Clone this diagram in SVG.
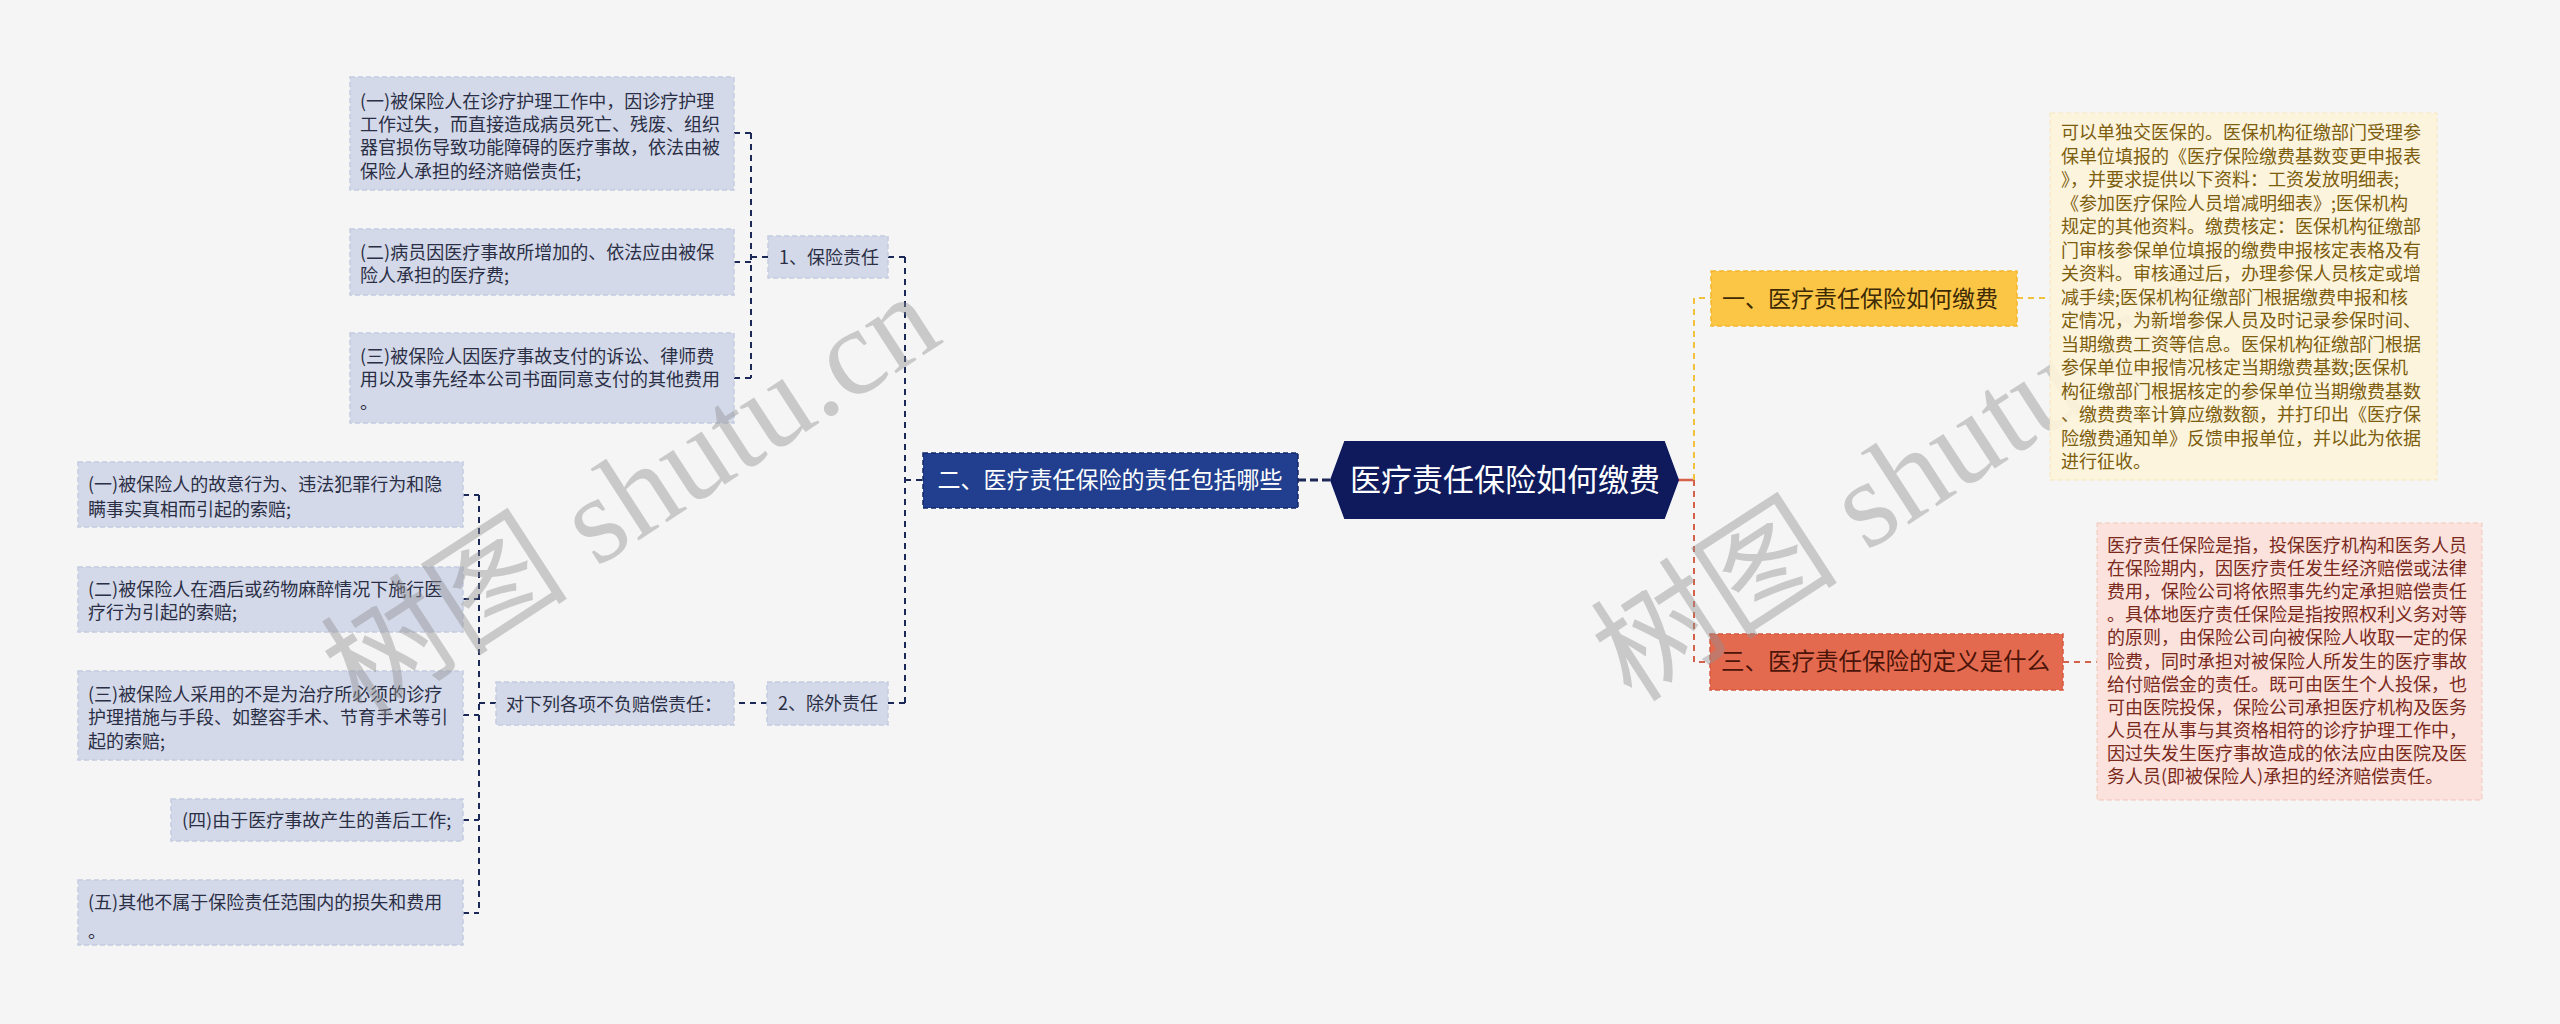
<svg xmlns="http://www.w3.org/2000/svg" width="2560" height="1024" viewBox="0 0 2560 1024">
<style>
text{font-family:"Noto Sans CJK SC","Noto Sans",sans-serif;}
.leaf rect{fill:#d3d9e9;stroke:#c3cbe0;stroke-width:1.5;stroke-dasharray:5 3;}
.leaf text{font-size:18px;fill:#2b2f45;}
.lc{fill:none;stroke:#1c2858;stroke-width:2;stroke-dasharray:6 5;}
.yc{fill:none;stroke:#f2c13e;stroke-width:2;stroke-dasharray:6 5;}
.rc{fill:none;stroke:#d6614a;stroke-width:2;stroke-dasharray:6 5;}
.ytext{font-size:18px;fill:#7d5d0e;}
.rtext{font-size:18px;fill:#7a2a1c;}
.wm{font-family:"Liberation Serif","Noto Sans CJK SC",serif;font-size:124px;fill:#8f8f8f;opacity:0.42;}
</style>
<rect x="0" y="0" width="2560" height="1024" fill="#f5f5f5"/>

<g id="connectors">
<path d="M1298 480 H1332" fill="none" stroke="#1c2858" stroke-width="3" stroke-dasharray="8 4"/>
<path class="lc" d="M922 480 H905 M905 257 V703 M905 257 H888 M905 703 H888"/>
<path class="lc" d="M768 257 H751 M751 133 V378 M734 133 H751 M734 262 H751 M734 378 H751"/>
<path class="lc" d="M767 703 H734"/>
<path class="lc" d="M496 703 H479 M479 495 V913 M463 495 H479 M463 599 H479 M463 715 H479 M463 820 H479 M463 913 H479"/>
<path d="M1678 480 H1694" fill="none" stroke="#d6614a" stroke-width="2.5"/>
<path class="yc" d="M1694 480 V298 H1711"/>
<path class="rc" d="M1694 480 V662 H1711"/>
<path class="yc" d="M2017 298 H2050"/>
<path class="rc" d="M2063 662 H2097"/>
</g>

<g id="root">
<polygon points="1331,480 1345,442 1664,442 1678,480 1664,518 1345,518" fill="#0e1a5c" stroke="#0e1a5c" stroke-width="2"/>
<text x="1505" y="491" font-size="31" fill="#ffffff" text-anchor="middle">医疗责任保险如何缴费</text>
</g>

<g id="n2">
<rect x="923" y="453" width="375" height="55" fill="#213f8e" stroke="#15296a" stroke-width="1.5" stroke-dasharray="5 3"/>
<text x="1110" y="488" font-size="23" fill="#ffffff" text-anchor="middle">二、医疗责任保险的责任包括哪些</text>
</g>

<g id="n2-1" class="leaf">
<rect x="768" y="236" width="120" height="42"/>
<text x="779" y="264">1、保险责任</text>
</g>
<g id="n2-2" class="leaf">
<rect x="767" y="682" width="121" height="43"/>
<text x="778" y="710">2、除外责任</text>
</g>

<g id="a1" class="leaf">
<rect x="350" y="77" width="384" height="113"/>
<text x="360" y="108">(一)被保险人在诊疗护理工作中，因诊疗护理</text>
<text x="360" y="131">工作过失，而直接造成病员死亡、残废、组织</text>
<text x="360" y="154">器官损伤导致功能障碍的医疗事故，依法由被</text>
<text x="360" y="178">保险人承担的经济赔偿责任;</text>
</g>
<g id="a2" class="leaf">
<rect x="350" y="229" width="384" height="66"/>
<text x="360" y="259">(二)病员因医疗事故所增加的、依法应由被保</text>
<text x="360" y="282">险人承担的医疗费;</text>
</g>
<g id="a3" class="leaf">
<rect x="350" y="333" width="384" height="90"/>
<text x="360" y="363">(三)被保险人因医疗事故支付的诉讼、律师费</text>
<text x="360" y="386">用以及事先经本公司书面同意支付的其他费用</text>
<text x="360" y="409">。</text>
</g>

<g id="b0" class="leaf">
<rect x="496" y="682" width="238" height="43"/>
<text x="506" y="711">对下列各项不负赔偿责任：</text>
</g>

<g id="b1" class="leaf">
<rect x="78" y="462" width="385" height="65"/>
<text x="88" y="491">(一)被保险人的故意行为、违法犯罪行为和隐</text>
<text x="88" y="516">瞒事实真相而引起的索赔;</text>
</g>
<g id="b2" class="leaf">
<rect x="78" y="567" width="385" height="65"/>
<text x="88" y="596">(二)被保险人在酒后或药物麻醉情况下施行医</text>
<text x="88" y="619">疗行为引起的索赔;</text>
</g>
<g id="b3" class="leaf">
<rect x="78" y="671" width="385" height="89"/>
<text x="88" y="701">(三)被保险人采用的不是为治疗所必须的诊疗</text>
<text x="88" y="724">护理措施与手段、如整容手术、节育手术等引</text>
<text x="88" y="748">起的索赔;</text>
</g>
<g id="b4" class="leaf">
<rect x="171" y="799" width="292" height="42"/>
<text x="182" y="827">(四)由于医疗事故产生的善后工作;</text>
</g>
<g id="b5" class="leaf">
<rect x="78" y="880" width="385" height="65"/>
<text x="88" y="909">(五)其他不属于保险责任范围内的损失和费用</text>
<text x="88" y="938">。</text>
</g>

<g id="n1">
<rect x="1711" y="271" width="306" height="55" fill="#fbc646" stroke="#f3b830" stroke-width="1.5" stroke-dasharray="5 3"/>
<text x="1722" y="307" font-size="23" fill="#3d2a05">一、医疗责任保险如何缴费</text>
</g>

<g id="n3">
<rect x="1710" y="634" width="353" height="56" fill="#e46a4f" stroke="#d45a40" stroke-width="1.5" stroke-dasharray="5 3"/>
<text x="1721" y="670" font-size="23.5" fill="#4a1408">三、医疗责任保险的定义是什么</text>
</g>

<g id="watermarks">
<text class="wm" transform="translate(362,720) rotate(-33)">树图 shutu.cn</text>
<text class="wm" transform="translate(1632,704) rotate(-33)">树图 shutu.cn</text>
</g>

<g id="n1-text">
<rect x="2050" y="113" width="387" height="367" fill="#fdf4da" fill-opacity="0.9" stroke="#f6e7bb" stroke-width="1" stroke-dasharray="5 3"/>
<text class="ytext" x="2061" y="139">可以单独交医保的。医保机构征缴部门受理参</text>
<text class="ytext" x="2061" y="163">保单位填报的《医疗保险缴费基数变更申报表</text>
<text class="ytext" x="2061" y="186">》，并要求提供以下资料：工资发放明细表;</text>
<text class="ytext" x="2061" y="210">《参加医疗保险人员增减明细表》;医保机构</text>
<text class="ytext" x="2061" y="233">规定的其他资料。缴费核定：医保机构征缴部</text>
<text class="ytext" x="2061" y="257">门审核参保单位填报的缴费申报核定表格及有</text>
<text class="ytext" x="2061" y="280">关资料。审核通过后，办理参保人员核定或增</text>
<text class="ytext" x="2061" y="304">减手续;医保机构征缴部门根据缴费申报和核</text>
<text class="ytext" x="2061" y="327">定情况，为新增参保人员及时记录参保时间、</text>
<text class="ytext" x="2061" y="351">当期缴费工资等信息。医保机构征缴部门根据</text>
<text class="ytext" x="2061" y="374">参保单位申报情况核定当期缴费基数;医保机</text>
<text class="ytext" x="2061" y="398">构征缴部门根据核定的参保单位当期缴费基数</text>
<text class="ytext" x="2061" y="421">、缴费费率计算应缴数额，并打印出《医疗保</text>
<text class="ytext" x="2061" y="445">险缴费通知单》反馈申报单位，并以此为依据</text>
<text class="ytext" x="2061" y="468">进行征收。</text>
</g>

<g id="n3-text">
<rect x="2097" y="523" width="385" height="277" fill="#fbe2dc" stroke="#f1c6bb" stroke-width="1" stroke-dasharray="5 3"/>
<text class="rtext" x="2107" y="552">医疗责任保险是指，投保医疗机构和医务人员</text>
<text class="rtext" x="2107" y="575">在保险期内，因医疗责任发生经济赔偿或法律</text>
<text class="rtext" x="2107" y="598">费用，保险公司将依照事先约定承担赔偿责任</text>
<text class="rtext" x="2107" y="621">。具体地医疗责任保险是指按照权利义务对等</text>
<text class="rtext" x="2107" y="644">的原则，由保险公司向被保险人收取一定的保</text>
<text class="rtext" x="2107" y="668">险费，同时承担对被保险人所发生的医疗事故</text>
<text class="rtext" x="2107" y="691">给付赔偿金的责任。既可由医生个人投保，也</text>
<text class="rtext" x="2107" y="714">可由医院投保，保险公司承担医疗机构及医务</text>
<text class="rtext" x="2107" y="737">人员在从事与其资格相符的诊疗护理工作中，</text>
<text class="rtext" x="2107" y="760">因过失发生医疗事故造成的依法应由医院及医</text>
<text class="rtext" x="2107" y="783">务人员(即被保险人)承担的经济赔偿责任。</text>
</g>
</svg>
